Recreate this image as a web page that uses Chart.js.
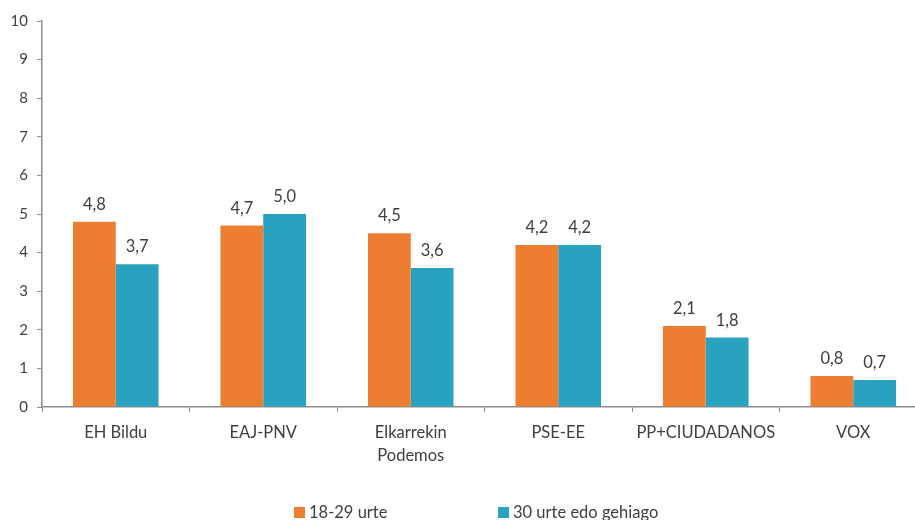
<!DOCTYPE html>
<html>
<head>
<meta charset="utf-8">
<script src="https://cdn.jsdelivr.net/npm/chart.js@4/dist/chart.umd.min.js"></script>
<style>
  html, body { margin: 0; padding: 0; background: #fff; overflow: hidden; }
  .wrap { width: 930px; height: 520px; position: relative; }
</style>
</head>
<body>
<div class="wrap"><canvas id="chart"></canvas></div>
<script>
const categories = ['EH Bildu', 'EAJ-PNV', ['Elkarrekin', 'Podemos'], 'PSE-EE', 'PP+CIUDADANOS', 'VOX'];
const youngValues = [4.8, 4.7, 4.5, 4.2, 2.1, 0.8];
const olderValues = [3.7, 5.0, 3.6, 4.2, 1.8, 0.7];
const seriesNames = ['18-29 urte', '30 urte edo gehiago'];
const yTicks = [0, 1, 2, 3, 4, 5, 6, 7, 8, 9, 10];

const FONT = 'Lato, "Open Sans", sans-serif';
const TEXT = '#404040';
const AXIS = '#8c8c8c';

// value labels above bars, Basque style decimal comma
const barLabels = {
  id: 'barLabels',
  afterDatasetsDraw(chart) {
    const ctx = chart.ctx;
    ctx.save();
    ctx.font = '16.5px ' + FONT;
    ctx.fillStyle = TEXT;
    ctx.textAlign = 'center';
    ctx.textBaseline = 'bottom';
    chart.data.datasets.forEach((ds, i) => {
      chart.getDatasetMeta(i).data.forEach((bar, j) => {
        ctx.fillText(ds.data[j].toFixed(1).replace('.', ','), bar.x, bar.y - 9);
      });
    });
    ctx.restore();
  }
};

// legend drawn under the axis labels
const bottomLegend = {
  id: 'bottomLegend',
  afterDraw(chart) {
    const ctx = chart.ctx;
    const starts = [294, 498];
    const y = 507;
    ctx.save();
    ctx.font = '16.5px ' + FONT;
    ctx.textBaseline = 'middle';
    chart.data.datasets.forEach((ds, i) => {
      ctx.fillStyle = ds.backgroundColor;
      ctx.fillRect(starts[i], y, 11, 11);
      ctx.fillStyle = TEXT;
      ctx.textAlign = 'left';
      ctx.fillText(ds.label, starts[i] + 15, y + 6);
    });
    ctx.restore();
  }
};

new Chart(document.getElementById('chart'), {
  type: 'bar',
  data: {
    labels: categories,
    datasets: [
      { label: seriesNames[0], data: youngValues, backgroundColor: '#ED7D31' },
      { label: seriesNames[1], data: olderValues, backgroundColor: '#29A2BF' }
    ]
  },
  options: {
    responsive: true,
    maintainAspectRatio: false,
    animation: false,
    layout: { padding: { top: 21, left: 0, right: 3, bottom: 0 } },
    datasets: { bar: { categoryPercentage: 0.58, barPercentage: 1.0 } },
    plugins: {
      legend: { display: false },
      tooltip: { enabled: false }
    },
    scales: {
      x: {
        grid: { drawOnChartArea: false, offset: true, tickLength: 5, color: AXIS },
        border: { color: AXIS, width: 1.5 },
        ticks: { color: TEXT, font: { family: FONT, size: 16.5, lineHeight: 1.4 }, padding: 9, maxRotation: 0, autoSkip: false },
        afterFit(scale) { scale.height = 113; }
      },
      y: {
        min: 0,
        max: 10,
        afterBuildTicks(scale) { scale.ticks = yTicks.map(v => ({ value: v })); },
        grid: { drawOnChartArea: false, tickLength: 5, color: AXIS },
        border: { color: AXIS, width: 1.5 },
        ticks: { color: TEXT, font: { family: FONT, size: 15 }, padding: 9 },
        afterFit(scale) { scale.width = 42; }
      }
    }
  },
  plugins: [barLabels, bottomLegend]
});
</script>
</body>
</html>
